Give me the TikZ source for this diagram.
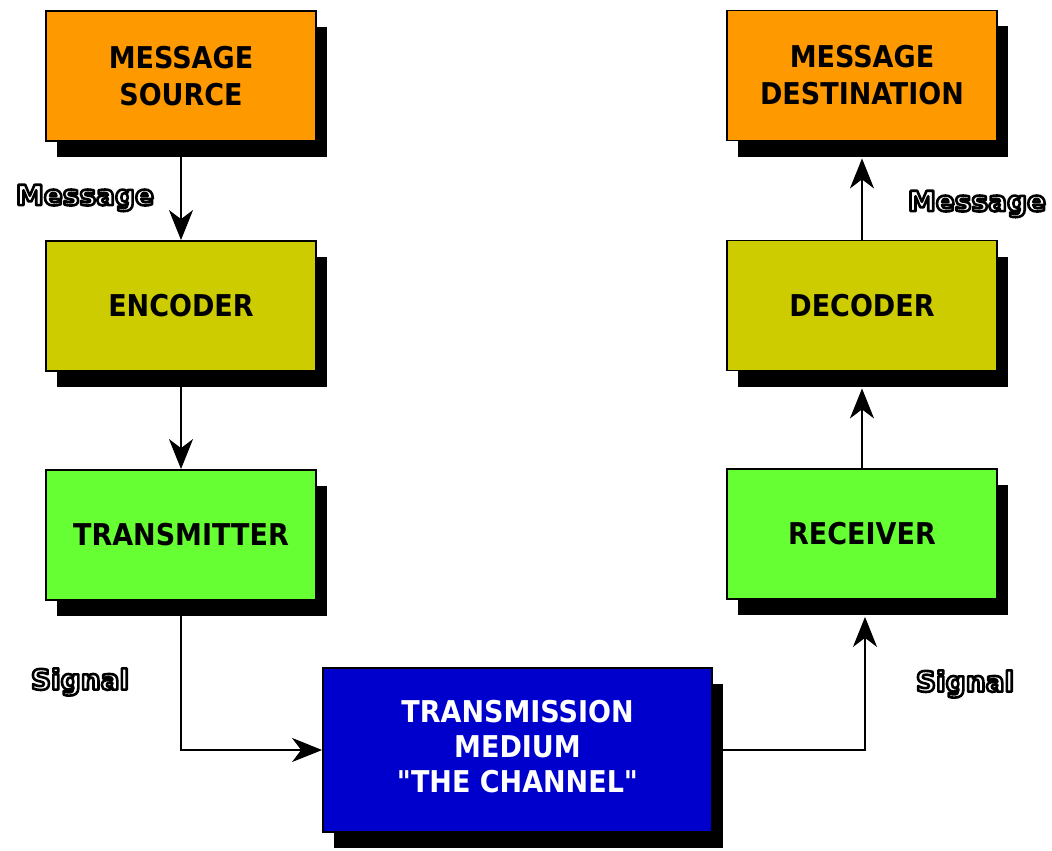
\documentclass[tikz,border=0pt]{standalone}
\usepackage{fontspec}
\setmainfont{DejaVu Sans}
\newfontfamily\boxfont{DejaVu Sans Condensed Bold}
\newfontfamily\lblfont{DejaVu Sans Bold}
\usetikzlibrary{shadows,arrows.meta}
\definecolor{srcorange}{HTML}{FF9900}
\definecolor{codolive}{HTML}{CCCC00}
\definecolor{txgreen}{HTML}{66FF33}
\definecolor{chblue}{HTML}{0000CC}
\tikzset{
  blockbox/.style={draw=black, line width=1.8pt, minimum width=270pt, minimum height=130pt,
    inner sep=0pt, align=center,
    font=\boxfont\fontsize{30}{37}\selectfont,
    drop shadow={shadow xshift=11pt, shadow yshift=-16pt, opacity=1, fill=black, draw=none}},
  conn/.style={line width=2pt, -{Stealth[length=30pt, width=24pt, inset=9pt]}},
  lbl/.style={font=\lblfont\fontsize{28}{30}\selectfont, inner sep=0pt}
}
\newcommand{\outl}[1]{\textcolor{white}{\special{pdf:literal direct 0 G 2 Tr 2.6 w 1 j}#1\special{pdf:literal direct 0 Tr}}}
\begin{document}
\begin{tikzpicture}[x=1pt,y=-1pt]
\useasboundingbox[fill=white] (0,0) rectangle (1052,851);
\node[blockbox, fill=srcorange] (src) at (181,76) {MESSAGE\\SOURCE};
\node[blockbox, fill=codolive] (enc) at (181,306) {ENCODER};
\node[blockbox, fill=txgreen] (tx) at (181,535) {TRANSMITTER};
\node[blockbox, fill=srcorange] (dst) at (862,75.5) {MESSAGE\\DESTINATION};
\node[blockbox, fill=codolive] (dec) at (862,305.5) {DECODER};
\node[blockbox, fill=txgreen] (rx) at (862,534) {RECEIVER};
\node[blockbox, fill=chblue, text=white, minimum width=389pt, minimum height=164pt,
  font=\boxfont\fontsize{30}{35}\selectfont] (ch) at (517.5,750)
  {TRANSMISSION\\MEDIUM\\"THE CHANNEL"\\[-27pt]};

\draw[conn] (src.south) -- (enc.north);
\draw[conn] (enc.south) -- (tx.north);
\draw[conn] (tx.south) |- (ch.west);
\coordinate (rxin) at ([xshift=3pt,yshift=-17pt]rx.south);
\draw[conn] (ch.east) -| (rxin);
\coordinate (decin) at ([yshift=-17pt]dec.south);
\draw[conn] (rx.north) -- (decin);
\coordinate (dstin) at ([yshift=-17pt]dst.south);
\draw[conn] (dec.north) -- (dstin);

\node[lbl] (msgL) at (85,198) {\outl{Message}};
\node[lbl] (msgR) at (977,204) {\outl{Message}};
\node[lbl] (sigL) at (80,682) {\outl{Signal}};
\node[lbl] (sigR) at (965,684) {\outl{Signal}};
\end{tikzpicture}
\end{document}
